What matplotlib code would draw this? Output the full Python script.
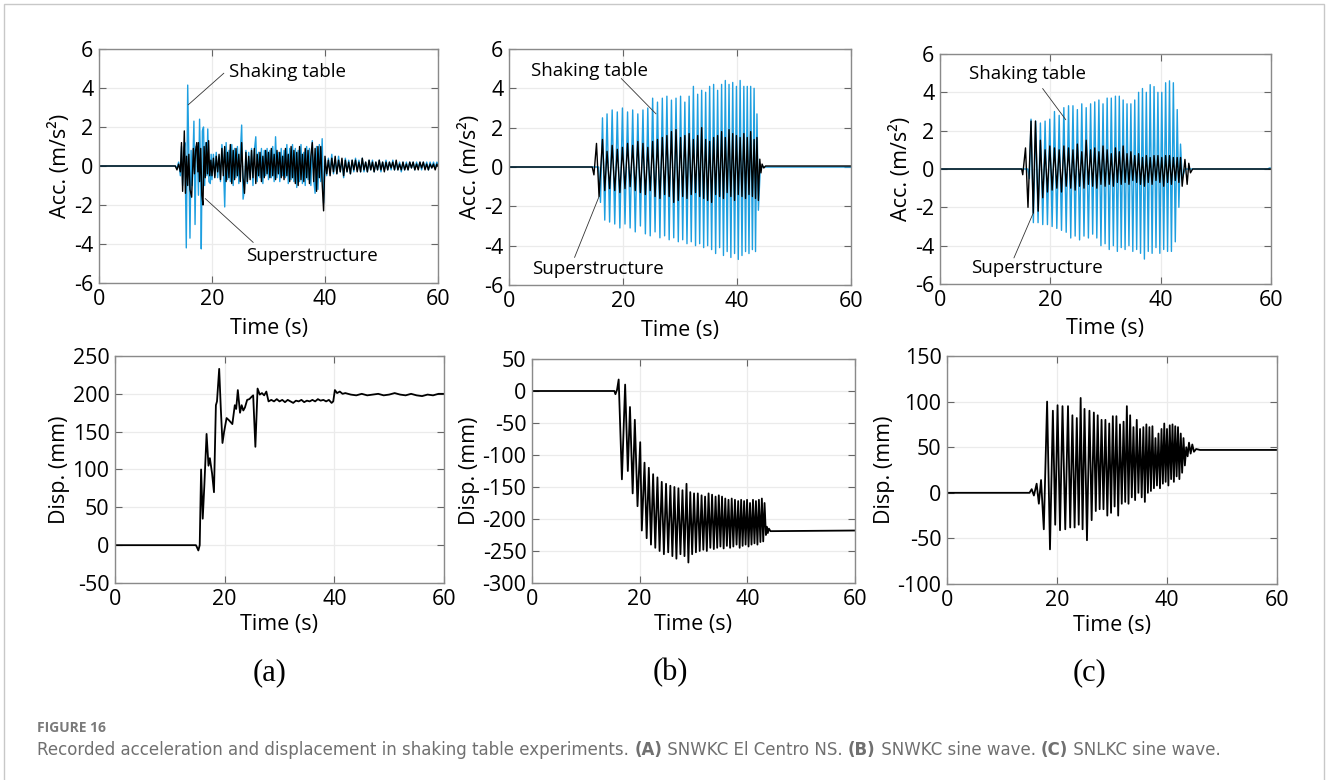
import numpy as np
import matplotlib
matplotlib.use("Agg")
import matplotlib.pyplot as plt
from matplotlib.patches import Rectangle

plt.rcParams['font.family'] = ['Open Sans', 'DejaVu Sans']
plt.rcParams['axes.unicode_minus'] = False

W, H = 1328, 780
BLUE = '#1E9FE0'
BLACK = '#000000'

# ---------------- Panel (a): SNWKC El Centro NS ----------------
# table (blue) and superstructure (black) acceleration, m/s^2
a_blk_t1 = [0, 13.5, 13.8, 14.1, 14.4, 14.6, 14.8, 15.0, 15.1, 15.3, 15.5, 15.7, 15.9, 16.1,
            16.4, 16.7, 16.9, 17.1, 17.3, 17.5, 17.6, 17.8, 18.0, 18.2, 18.4, 18.6, 18.8,
            19.0, 19.2, 19.4, 19.6, 19.8]
a_blk_v1 = [0, 0, -0.2, 0.1, -0.3, 1.2, -1.3, 0.8, 1.8, -1.4, 0.5, -1.0, 0.6, -1.2,
            -1.6, 0.9, -0.4, 0.8, 1.2, -0.3, 1.2, -0.8, 0.9, -1.5, -2.0, 1.0, -0.6,
            1.2, -0.4, 1.3, -0.5, 0.3]
a_blk_v2 = [-0.5, 0.4, -0.6, 0.5, -0.3, 0.6, -0.7, 0.9, -0.5, 1.0,
            -0.8, 0.7, -0.6, 1.1, -0.9, 0.8, -0.7, 0.9, -0.5, 0.6,
            -0.8, 1.2, -0.6, -1.4, 0.7, -0.8, 0.5, -0.7, 0.8, -0.6,
            0.9, -0.9, 0.6, -0.5, 0.7, -0.8, 0.5, -0.6, 0.8, -0.4,
            0.7, -0.6, 0.9, -0.5, 0.6, -0.7, 0.8, -0.4, 0.7, -0.6,
            0.5, -0.7, 0.9, -0.5, 0.6, -0.8, 1.0, -0.6, 0.8, -0.9,
            0.7, -1.0, 1.0, -0.7, 0.6, -0.8, 0.9, -0.6, 0.8, -0.9,
            0.5, 1.2, -0.8, 0.9, -1.3, 1.0, -0.6, 1.0, -0.9, -2.3]
a_blk_v3 = [0.5, -0.4, 0.3, -0.5, 0.4, -0.3, 0.5, -0.4, 0.3, -0.3, 0.4, -0.5, 0.3, -0.3,
            0.2, -0.4, 0.3, -0.2, 0.3, -0.3, 0.2, -0.3, 0.4, -0.2, 0.2, -0.3, 0.3, -0.2,
            0.2, -0.3, 0.2, -0.2, 0.3, -0.2, 0.2, -0.3, 0.2, -0.2, 0.2, -0.1, 0.2, -0.2,
            0.3, -0.2, 0.1, -0.2, 0.2, -0.2, 0.1, -0.2, 0.2, -0.1, 0.2, -0.2, 0.1, -0.2,
            0.2, -0.1, 0.2, -0.2, 0.1, -0.2, 0.1, -0.1, 0.1, -0.2, 0.1]

a_tab_t1 = [0, 13.5, 13.8, 14.1, 14.4, 14.6, 14.8, 15.0, 15.2, 15.45, 15.7, 15.9, 16.1, 16.3,
            16.5, 16.8, 17.0, 17.2, 17.4, 17.6, 17.8, 18.0, 18.1, 18.3, 18.5, 18.7, 18.9,
            19.1, 19.25, 19.45, 19.7, 19.85]
a_tab_v1 = [0, 0, -0.1, 0.2, -0.5, 1.0, -1.0, 0.6, 1.2, -4.2, 4.15, 0.5, -3.7, 0.8,
            -1.0, 2.3, -3.0, 1.0, 1.0, -1.5, 2.4, -0.5, -4.25, 1.8, 2.0, -1.0, 1.2,
            -0.5, 1.9, -0.8, -0.9, 0.6]
a_tab_v2 = [-0.7, 0.6, -0.5, 0.7, -0.6, 0.5, -0.8, 1.1, 0.3, -2.1,
            1.2, -0.7, 0.8, -0.8, 1.1, -1.0, 0.9, -0.6, 1.0, -0.9,
            0.6, 2.1, -1.7, -1.2, 0.8, -0.9, 0.7, -0.6, 0.9, -1.0,
            0.8, 1.5, -0.8, 0.7, -0.6, 0.9, -0.9, 0.8, -0.5, 0.9,
            -0.7, 0.8, -0.6, 1.0, -0.8, 1.5, -0.6, 0.7, -0.8, 0.9,
            -0.5, 0.8, -0.6, 1.1, -0.9, 0.9, -0.7, 1.1, -0.8, 0.9,
            -1.1, 0.8, -0.8, 1.1, -0.9, 0.7, -1.0, 1.0, -0.7, 0.9,
            -1.0, 1.3, -0.7, -1.4, 1.0, -1.2, 1.1, -0.8, 1.4, -1.9]
a_tab_v3 = [0.3, -0.5, 0.4, -0.3, 0.6, -0.4, 0.3, -0.4, 0.5, -0.3, 0.3, -0.6, 0.4, -0.3,
            0.3, -0.4, 0.3, -0.3, 0.4, -0.2, 0.3, -0.3, 0.4, -0.3, 0.2, -0.3, 0.3, -0.2,
            0.3, -0.3, 0.2, -0.2, 0.3, -0.3, 0.2, -0.2, 0.3, -0.2, 0.2, -0.2, 0.3, -0.2,
            0.2, -0.2, 0.2, -0.3, 0.2, -0.2, 0.2, -0.2, 0.2, -0.1, 0.2, -0.2, 0.2, -0.1,
            0.2, -0.2, 0.2, -0.1, 0.2, -0.2, 0.2, -0.1, 0.2, -0.1, 0.2]

# isolator displacement (a), mm
a_disp_t = [0, 14.75, 14.9, 15.2, 15.45, 15.7, 16.0, 16.3, 16.7, 17.05, 17.3, 17.7, 18.05, 18.4,
            18.6, 19.0, 19.3, 19.6, 19.9, 20.35, 20.8, 21.4, 21.85, 22.1, 22.4, 22.8, 23.1,
            23.4, 23.7, 24.1, 24.5, 24.9, 25.2, 25.6, 26.0, 26.4, 26.8, 27.2, 27.6, 28.0,
            28.5, 29.0, 29.5, 30.0, 30.5, 31.0, 31.5, 32.0, 32.5, 33.0, 33.5, 34.0, 34.5,
            35.0, 35.5, 36.0, 36.5, 37.0, 37.5, 38.0, 38.5, 39.0, 39.5, 39.8, 40.1, 40.5,
            41.0, 41.5, 42.0, 43.0, 44.0, 45.0, 46.0, 47.0, 48.0, 49.0, 50.0, 51.0, 52.0,
            53.0, 54.0, 55.0, 56.0, 57.0, 58.0, 59.0, 60.0]
a_disp_v = [0, 0, -2, -7, 0, 100, 35, 80, 147, 105, 115, 95, 70, 185,
            190, 233, 180, 135, 150, 168, 165, 160, 185, 180, 205, 175, 185,
            178, 182, 192, 193, 196, 198, 130, 207, 199, 201, 198, 203, 190,
            192, 190, 193, 190, 192, 189, 192, 190, 188, 191, 190, 192, 189,
            191, 190, 192, 190, 193, 191, 192, 190, 192, 188, 190, 205, 201,
            203, 200, 201, 199, 198, 200, 198, 199, 200, 198, 199, 201, 199,
            198, 200, 198, 197, 199, 198, 200, 200]

# ---------------- Panel (b): SNWKC sine wave ----------------
b_acc_tpk = [16.4, 17.2, 18.1, 19.0, 19.9, 20.8, 21.7, 22.6, 23.5, 24.35,
             25.2, 26.05, 26.9, 27.7, 28.5, 29.3, 30.1, 30.85, 31.6, 32.35,
             33.1, 33.8, 34.5, 35.2, 35.9, 36.6, 37.3, 37.95, 38.6, 39.25,
             39.9, 40.55, 41.2, 41.8, 42.4, 43.0, 43.5]
b_tab_hi = [2.5, 2.7, 2.9, 2.8, 3.0, 2.8, 2.9, 2.7, 2.9, 3.0,
            3.5, 3.3, 3.5, 3.6, 3.4, 3.5, 3.6, 3.3, 3.6, 4.1,
            3.7, 3.9, 3.8, 4.1, 4.2, 3.9, 4.2, 4.4, 4.2, 4.3,
            4.1, 4.4, 4.1, 4.1, 4.1, 4.0, 2.7]
b_tab_lo = [-2.7, -2.8, -2.9, -3.1, -2.9, -3.1, -3.3, -3.0, -3.4, -3.5,
            -3.3, -3.6, -3.5, -3.7, -3.6, -3.8, -3.7, -3.9, -3.8, -4.0,
            -3.9, -4.1, -4.0, -4.2, -4.4, -4.1, -4.5, -4.3, -4.6, -4.4,
            -4.7, -4.5, -4.3, -4.4, -4.2, -4.3, -2.2]
b_blk_hi = [1.4, 0.8, 1.1, 0.9, 1.0, 1.2, 1.1, 1.3, 1.2, 1.0,
            1.3, 1.4, 1.5, 1.6, 1.8, 1.9, 1.5, 1.6, 1.7, 1.4,
            1.6, 2.0, 1.4, 1.3, 1.5, 1.6, 1.8, 1.5, 1.9, 1.7,
            1.6, 1.5, 1.7, 1.5, 1.8, 1.4, 1.5]
b_blk_lo = [-1.2, -1.1, -1.2, -1.3, -1.1, -1.0, -1.2, -1.3, -1.4, -1.2,
            -1.5, -1.6, -1.4, -1.5, -1.8, -1.7, -1.5, -1.6, -1.4, -1.3,
            -1.5, -1.6, -1.7, -1.8, -1.4, -1.5, -1.6, -1.3, -1.5, -1.7,
            -1.4, -1.5, -1.6, -1.4, -1.5, -1.6, -1.7]
b_tab_pre_t, b_tab_pre_v = [0, 15.7, 16.05], [0, 0, -1.8]
b_tab_post_t, b_tab_post_v = [44.1, 60], [0, 0]
b_blk_pre_t, b_blk_pre_v = [0, 14.6, 14.9, 15.35, 15.8], [0, 0, -0.4, 1.2, -1.5]
b_blk_post_t, b_blk_post_v = [44.0, 44.2, 44.4, 44.7, 45.0, 60], [0.4, -0.3, 0.15, -0.05, 0.05, 0.05]

b_disp_tpk = [20.9, 21.7, 22.5, 23.3, 24.1, 24.9, 25.7, 26.45, 27.2, 27.95,
              28.7, 29.4, 30.1, 30.8, 31.5, 32.15, 32.8, 33.45, 34.1, 34.7,
              35.3, 35.9, 36.5, 37.1, 37.7, 38.3, 38.85, 39.4, 39.95, 40.5,
              41.05, 41.6, 42.15, 42.7, 43.2]
b_disp_hi = [-112, -120, -130, -135, -142, -145, -148, -150, -152, -155,
             -145, -158, -160, -160, -163, -165, -160, -162, -165, -163,
             -165, -168, -170, -168, -170, -172, -170, -172, -170, -175,
             -170, -172, -170, -168, -175]
b_disp_lo = [-230, -240, -245, -250, -255, -252, -258, -262, -255, -258,
             -268, -255, -252, -250, -248, -250, -245, -247, -245, -243,
             -246, -242, -245, -243, -240, -245, -242, -240, -243, -240,
             -238, -240, -236, -235, -225]
b_disp_pre_t = [0, 15.3, 15.5, 15.8, 16.1, 16.7, 17.3, 17.8, 18.2, 18.7, 19.1, 19.6, 20.1, 20.4]
b_disp_pre_v = [0, 0, -5, 2, 18, -138, 10, -125, -25, -160, -45, -180, -80, -218]
b_disp_post_t = [43.6, 43.8, 44.0, 44.3, 60]
b_disp_post_v = [-212, -222, -215, -219, -218]

# ---------------- Panel (c): SNLKC sine wave ----------------
c_acc_tpk = [16.5, 17.35, 18.2, 19.05, 19.9, 20.75, 21.6, 22.45, 23.3, 24.1,
             24.9, 25.7, 26.5, 27.3, 28.05, 28.8, 29.55, 30.3, 31.05, 31.8,
             32.5, 33.2, 33.9, 34.6, 35.3, 36.0, 36.7, 37.4, 38.1, 38.8,
             39.5, 40.2, 40.9, 41.6, 42.3, 43.0, 43.6]
c_tab_hi = [2.6, 2.5, 2.4, 2.5, 2.6, 3.0, 2.8, 3.2, 3.3, 3.3,
            3.1, 3.4, 3.2, 3.4, 3.5, 3.6, 3.4, 3.7, 3.7, 3.8,
            3.8, 3.6, 3.4, 3.4, 3.6, 4.0, 4.2, 4.0, 4.4, 4.3,
            4.0, 4.0, 4.5, 4.6, 4.5, 3.1, 1.3]
c_tab_lo = [-2.8, -2.8, -2.9, -2.9, -3.0, -3.1, -3.2, -3.3, -3.6, -3.5,
            -3.7, -3.5, -3.6, -3.4, -3.6, -4.0, -3.9, -4.2, -4.0, -4.3,
            -4.1, -4.2, -4.0, -4.3, -4.2, -4.4, -4.7, -4.3, -4.4, -4.1,
            -4.4, -4.2, -4.3, -4.3, -3.8, -2.0, -0.5]
c_blk_hi = [1.5, 1.0, 1.2, 1.1, 1.0, 1.2, 1.1, 1.0, 1.3, 0.9,
            1.5, 1.0, 1.1, 0.9, 1.2, 1.0, 0.8, 1.1, 0.9, 1.2,
            0.8, 0.9, 0.7, 0.8, 0.6, 0.7, 0.6, 0.7, 0.7, 0.6,
            0.7, 0.7, 0.6, 0.6, 0.6]
c_blk_lo = [-1.5, -1.2, -1.1, -1.0, -1.2, -0.9, -1.0, -1.1, -0.9, -1.0,
            -0.8, -0.9, -1.0, -0.8, -0.9, -0.8, -0.9, -0.7, -0.8, -0.7,
            -0.8, -0.6, -0.7, -0.8, -0.9, -0.7, -0.8, -0.6, -0.7, -0.9,
            -0.7, -0.8, -0.6, -0.7, -0.9]
c_tab_pre_t, c_tab_pre_v = [0, 15.9, 16.2], [0, 0, -0.5]
c_tab_post_t, c_tab_post_v = [44.4, 59.4, 59.7, 60], [0, 0, 0.05, 0.05]
c_blk_pre_t = [0, 14.8, 15.0, 15.5, 15.95, 16.5, 16.9, 17.3, 17.8]
c_blk_pre_v = [0, 0, -0.3, 1.1, -2.0, 2.5, -2.3, 2.5, -2.2]
c_blk_post_t = [44.4, 44.8, 45.1, 45.4, 45.8, 60]
c_blk_post_v = [0.5, -0.8, 0.3, -0.2, 0.0, 0.0]

c_disp_tpk = [18.2, 19.25, 20.1, 21.0, 22.0, 22.8, 23.6, 24.3, 25.0, 25.9,
              26.7, 27.4, 28.1, 28.8, 29.5, 30.15, 30.8, 31.45, 32.1, 32.7,
              33.3, 33.9, 34.5, 35.1, 35.7, 36.25, 36.8, 37.35, 37.9, 38.45,
              39.0, 39.5, 40.0, 40.5, 41.0, 41.5, 42.0, 42.5, 43.0, 43.5]
c_disp_hi = [100, 90, 96, 95, 95, 85, 82, 104, 92, 90,
             88, 85, 80, 80, 76, 84, 84, 75, 78, 95,
             85, 72, 80, 70, 72, 75, 72, 73, 60, 65,
             70, 76, 70, 74, 75, 73, 72, 65, 60, 50]
c_disp_lo = [-62, -35, -41, -40, -38, -38, -35, -40, -52, -30,
             -20, -18, -18, -25, -22, -15, -25, -12, -10, -12,
             -5, -8, 0, -5, -10, 0, 2, 5, 8, 5,
             10, 12, 8, 15, 12, 18, 15, 22, 30, 40]
c_disp_pre_t = [0, 15.0, 15.4, 15.8, 16.3, 16.7, 17.1, 17.6]
c_disp_pre_v = [0, 0, 4, -3, 10, -12, 14, -40]
c_disp_post_t = [44.0, 44.3, 44.6, 44.9, 45.3, 46.0, 60]
c_disp_post_v = [55, 43, 53, 45, 48, 47, 47]

x_ticks = [0, 20, 40, 60]
acc_ticks = [-6, -4, -2, 0, 2, 4, 6]
a_disp_ticks = [-50, 0, 50, 100, 150, 200, 250]
b_disp_ticks = [-300, -250, -200, -150, -100, -50, 0, 50]
c_disp_ticks = [-100, -50, 0, 50, 100, 150]

panel_labels = ['(a)', '(b)', '(c)']
caption_head = 'FIGURE 16'
caption_parts = [('Recorded acceleration and displacement in shaking table experiments. ', 'normal'),
                 ('(A)', 'bold'), (' SNWKC El Centro NS. ', 'normal'),
                 ('(B)', 'bold'), (' SNWKC sine wave. ', 'normal'),
                 ('(C)', 'bold'), (' SNLKC sine wave.', 'normal')]


def zigzag(t_hi, hi, lo):
    t_hi = np.asarray(t_hi, float)
    dt = np.diff(t_hi)
    dt = np.append(dt, dt[-1])
    n = min(len(t_hi), len(hi), len(lo))
    t = np.empty(2 * n)
    v = np.empty(2 * n)
    t[0::2] = t_hi[:n]
    t[1::2] = t_hi[:n] + dt[:n] / 2
    v[0::2] = hi[:n]
    v[1::2] = lo[:n]
    return t, v


def join(*parts):
    ts = np.concatenate([np.asarray(p[0], float) for p in parts])
    vs = np.concatenate([np.asarray(p[1], float) for p in parts])
    return ts, vs


fig = plt.figure(figsize=(W / 100, H / 100), dpi=100)


def make_ax(l, t, r, b):
    return fig.add_axes([l / W, 1 - b / H, (r - l) / W, (b - t) / H])


def style(ax, yticks, ylabel, xpad):
    ax.set_xlim(0, 60)
    ax.set_ylim(yticks[0], yticks[-1])
    ax.set_xticks(x_ticks)
    ax.set_yticks(yticks)
    ax.grid(True, color='#ebebeb', lw=0.9)
    ax.set_axisbelow(True)
    ax.tick_params(direction='in', length=5, width=0.8, color='#666666',
                   top=True, right=True, labelsize=15.5, pad=4)
    for s in ax.spines.values():
        s.set_color('#8a8a8a')
        s.set_linewidth(1.0)
    ax.set_xlabel('Time (s)', fontsize=15.5, labelpad=xpad)
    ax.set_ylabel(ylabel, fontsize=15.5, labelpad=2)


LW = 1.0
LWD = 1.3
ANN_FS = 13.5
LEAD = dict(arrowstyle='-', lw=0.6, color='#333333', shrinkA=0, shrinkB=0)

# ---- (a) top
ax = make_ax(99, 49, 438, 283)
t, v = join((a_tab_t1, a_tab_v1), (np.linspace(20.0, 39.75, len(a_tab_v2)), a_tab_v2),
            (np.linspace(40.0, 59.8, len(a_tab_v3)), a_tab_v3), ([60], [0.1]))
ax.plot(t, v, color=BLUE, lw=LW)
t, v = join((a_blk_t1, a_blk_v1), (np.linspace(20.0, 39.75, len(a_blk_v2)), a_blk_v2),
            (np.linspace(40.0, 59.8, len(a_blk_v3)), a_blk_v3), ([60], [0.0]))
ax.plot(t, v, color=BLACK, lw=LW)
style(ax, acc_ticks, 'Acc. (m/s²)', 6)
ax.annotate('', xy=(15.8, 3.14), xytext=(22.1, 4.76), arrowprops=LEAD)
ax.text(23.0, 4.8, 'Shaking table', fontsize=ANN_FS, va='center', ha='left')
ax.annotate('', xy=(18.8, -1.67), xytext=(27.3, -3.92), arrowprops=LEAD)
ax.text(26.0, -4.62, 'Superstructure', fontsize=ANN_FS, va='center', ha='left')

# ---- (b) top
ax = make_ax(509, 49, 851, 285)
t, v = join((b_tab_pre_t, b_tab_pre_v), zigzag(b_acc_tpk, b_tab_hi, b_tab_lo),
            (b_tab_post_t, b_tab_post_v))
ax.plot(t, v, color=BLUE, lw=LW)
t, v = join((b_blk_pre_t, b_blk_pre_v), zigzag(b_acc_tpk, b_blk_hi, b_blk_lo),
            (b_blk_post_t, b_blk_post_v))
ax.plot(t, v, color=BLACK, lw=LW)
style(ax, acc_ticks, 'Acc. (m/s²)', 6)
ax.annotate('', xy=(25.8, 2.7), xytext=(19.7, 4.5), arrowprops=LEAD)
ax.text(3.9, 4.9, 'Shaking table', fontsize=ANN_FS, va='center', ha='left')
ax.annotate('', xy=(15.8, -1.5), xytext=(11.5, -4.6), arrowprops=LEAD)
ax.text(4.1, -5.17, 'Superstructure', fontsize=ANN_FS, va='center', ha='left')

# ---- (c) top
ax = make_ax(940, 54, 1271, 284)
t, v = join((c_tab_pre_t, c_tab_pre_v), zigzag(c_acc_tpk, c_tab_hi, c_tab_lo),
            (c_tab_post_t, c_tab_post_v))
ax.plot(t, v, color=BLUE, lw=LW)
t, v = join((c_blk_pre_t, c_blk_pre_v), zigzag(c_acc_tpk[2:], c_blk_hi, c_blk_lo),
            (c_blk_post_t, c_blk_post_v))
ax.plot(t, v, color=BLACK, lw=LW)
style(ax, acc_ticks, 'Acc. (m/s²)', 5)
ax.annotate('', xy=(22.8, 2.57), xytext=(18.6, 4.2), arrowprops=LEAD)
ax.text(5.3, 4.97, 'Shaking table', fontsize=ANN_FS, va='center', ha='left')
ax.annotate('', xy=(16.9, -2.3), xytext=(13.4, -4.64), arrowprops=LEAD)
ax.text(5.6, -5.17, 'Superstructure', fontsize=ANN_FS, va='center', ha='left')

# ---- (a) bottom
ax = make_ax(115, 356, 444, 583)
ax.plot(a_disp_t, a_disp_v, color=BLACK, lw=LWD)
style(ax, a_disp_ticks, 'Disp. (mm)', 3.5)

# ---- (b) bottom
ax = make_ax(532, 359, 855, 583)
t, v = join((b_disp_pre_t, b_disp_pre_v), zigzag(b_disp_tpk, b_disp_hi, b_disp_lo),
            (b_disp_post_t, b_disp_post_v))
ax.plot(t, v, color=BLACK, lw=LWD)
style(ax, b_disp_ticks, 'Disp. (mm)', 3.5)

# ---- (c) bottom
ax = make_ax(947, 356, 1277, 584)
t, v = join((c_disp_pre_t, c_disp_pre_v), zigzag(c_disp_tpk, c_disp_hi, c_disp_lo),
            (c_disp_post_t, c_disp_post_v))
ax.plot(t, v, color=BLACK, lw=LWD)
style(ax, c_disp_ticks, 'Disp. (mm)', 3.5)

# ---- panel letters
for lab, xc in zip(panel_labels, [270, 670, 1089]):
    fig.text(xc / W, 1 - 673 / H, lab, fontsize=22, family='Liberation Serif',
             ha='center', va='center')

# ---- frame
fig.patches.append(Rectangle((4 / W, -0.05), 1320 / W, 1 - 4 / H + 0.05,
                             transform=fig.transFigure, fill=False,
                             ec='#c8c8c8', lw=1.0))

# ---- caption
fig.text(37 / W, 1 - 728 / H, caption_head, fontsize=10, fontweight='bold',
         color='#7a7a7a', ha='left', va='center')
fig.canvas.draw()
renderer = fig.canvas.get_renderer()
x = 37.0
for txt, wt in caption_parts:
    tt = fig.text(x / W, 1 - 750 / H, txt, fontsize=12, fontweight=wt,
                  family=['DejaVu Sans'], color='#707070', ha='left', va='center')
    bb = tt.get_window_extent(renderer=renderer)
    x += bb.width

fig.savefig('out.png', dpi=100)
